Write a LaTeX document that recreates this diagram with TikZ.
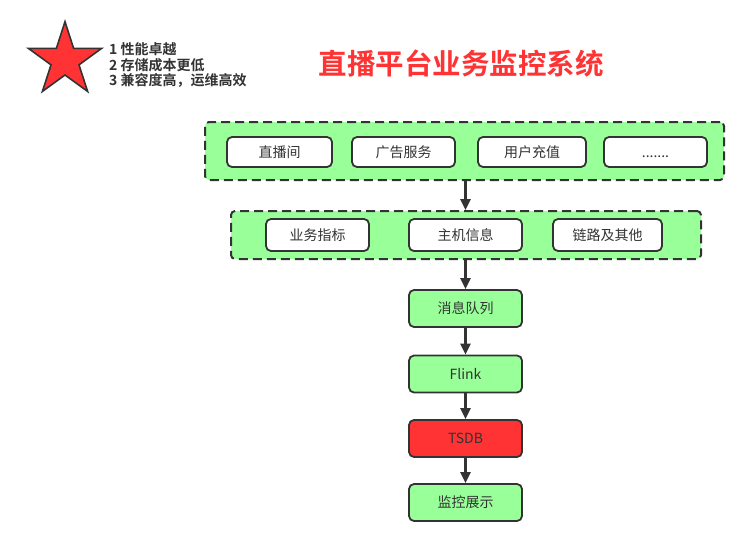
\documentclass[tikz,border=0pt]{standalone}
\usepackage{fontspec}
\setmainfont{Noto Sans CJK SC}[BoldFont={Noto Sans CJK SC Bold}]
\usetikzlibrary{arrows.meta}
\definecolor{pgreen}{HTML}{99FF99}
\definecolor{pred}{HTML}{FF3333}
\definecolor{dgray}{HTML}{333333}
\tikzset{
  container/.style={draw=dgray, fill=pgreen, line width=2pt, dash pattern=on 9pt off 5pt, rounded corners=4pt, inner sep=0pt},
  wbox/.style={draw=dgray, fill=white, line width=1.8pt, rounded corners=5pt, minimum height=30pt, font=\fontsize{14}{16}\selectfont, text=dgray, inner sep=0pt},
  gbox/.style={draw=dgray, fill=pgreen, line width=1.8pt, rounded corners=5pt, minimum width=113pt, minimum height=37pt, font=\fontsize{14}{16}\selectfont, text=dgray, inner sep=0pt},
  flow/.style={draw=dgray, line width=2.5pt, -{Triangle[length=11pt,width=10pt]}},
  lefttext/.style={anchor=west, font=\bfseries\fontsize{14}{16}\selectfont, text=dgray, inner sep=0pt},
}
\begin{document}
\begin{tikzpicture}[x=1pt,y=-1pt]
\useasboundingbox (0,0) rectangle (754,546);
% star
\draw[dgray, fill=pred, line width=1.6pt, line join=miter]
  (65,21.7)
  \foreach \i in {1,...,9} {
    -- ({65+(mod(\i,2)==0 ? 38.5 : 14.7)*cos(90+36*\i)}, {60.3-(mod(\i,2)==0 ? 38.5 : 14.7)*sin(90+36*\i)})
  } -- cycle;
\node[lefttext] (l1) at (109,49) {1 性能卓越};
\node[lefttext] (l2) at (109,65) {2 存储成本更低};
\node[lefttext] (l3) at (109,80.5) {3 兼容度高，运维高效};
% title
\node[font=\bfseries\fontsize{28.5}{31}\selectfont, text=pred, inner sep=0pt] (title) at (461,63.5) {直播平台业务监控系统};
% top container
\node[container, minimum width=519pt, minimum height=58pt] (top) at (464.5,151) {};
\node[wbox, minimum width=105pt] (b1) at (279.5,152) {直播间};
\node[wbox, minimum width=103pt] (b2) at (403.5,152) {广告服务};
\node[wbox, minimum width=108pt] (b3) at (532,152) {用户充值};
\node[wbox, minimum width=103pt] (b4) at (655.5,152) {\vphantom{直}.......};
% middle container
\node[container, minimum width=470pt, minimum height=48pt] (mid) at (466,235) {};
\node[wbox, minimum width=103pt, minimum height=32pt] (c1) at (317.5,235) {业务指标};
\node[wbox, minimum width=113pt, minimum height=32pt] (c2) at (465.5,235) {主机信息};
\node[wbox, minimum width=109pt, minimum height=32pt] (c3) at (607.5,235) {链路及其他};
% vertical chain
\node[gbox] (v1) at (465.5,308.5) {消息队列};
\node[gbox] (v2) at (465.5,374) {Flink};
\node[gbox, fill=pred] (v3) at (465.5,438.5) {TSDB};
\node[gbox] (v4) at (465.5,502.5) {监控展示};
% arrows
\draw[flow] (top.south -| v1) -- (mid.north -| v1);
\draw[flow] (mid.south -| v1) -- (v1.north);
\draw[flow] (v1) -- (v2);
\draw[flow] (v2) -- (v3);
\draw[flow] (v3) -- (v4);
\end{tikzpicture}
\end{document}
